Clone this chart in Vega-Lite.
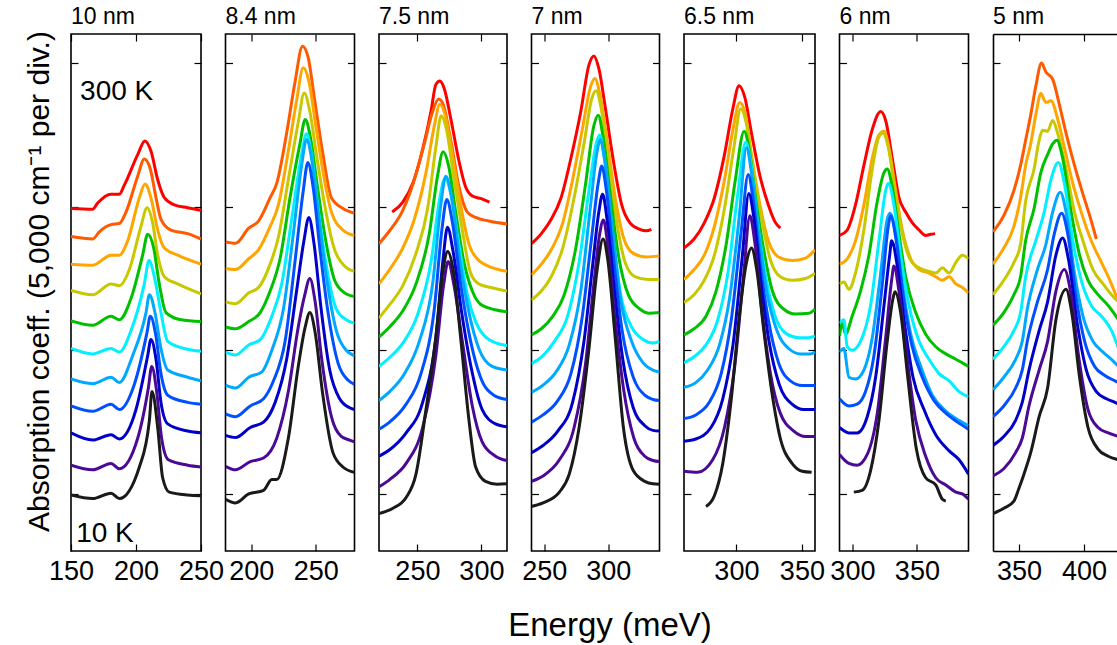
{
"$schema":"https://vega.github.io/schema/vega-lite/v6.json",
"background":"white",
"padding":{"left":23,"top":5,"right":0,"bottom":0},
"spacing":24.5,
"bounds":"flush",
"resolve":{"scale":{"x":"independent","y":"independent"},"axis":{"x":"independent","y":"independent"}},
"datasets":{
"ann":[{"x":157,"y":1120,"t":"300 K"},{"x":154,"y":-111,"t":"10 K"}],
"p1":[
{"c":11,"x":150,"y":795},{"c":11,"x":166.7,"y":793},{"c":11,"x":170.5,"y":810},{"c":11,"x":180.8,"y":835},{"c":11,"x":187.2,"y":835},{"c":11,"x":191,"y":860},{"c":11,"x":201.3,"y":945},{"c":11,"x":206.9,"y":983},{"c":11,"x":211.5,"y":955},{"c":11,"x":216.7,"y":875},{"c":11,"x":221.8,"y":825},{"c":11,"x":229.5,"y":805},{"c":11,"x":239.7,"y":797},{"c":11,"x":250,"y":790},
{"c":10,"x":150,"y":717},{"c":10,"x":166.7,"y":710},{"c":10,"x":171.8,"y":730},{"c":10,"x":180.8,"y":750},{"c":10,"x":187.2,"y":753},{"c":10,"x":192.3,"y":785},{"c":10,"x":201.3,"y":885},{"c":10,"x":206.4,"y":933},{"c":10,"x":211,"y":905},{"c":10,"x":215.4,"y":825},{"c":10,"x":219.2,"y":765},{"c":10,"x":226.9,"y":735},{"c":10,"x":239.7,"y":725},{"c":10,"x":250,"y":710},
{"c":9,"x":150,"y":640},{"c":9,"x":166.7,"y":637},{"c":9,"x":180.8,"y":665},{"c":9,"x":187.2,"y":665},{"c":9,"x":193.6,"y":705},{"c":9,"x":202.6,"y":825},{"c":9,"x":206.9,"y":863},{"c":9,"x":211.5,"y":825},{"c":9,"x":216.7,"y":735},{"c":9,"x":221.8,"y":685},{"c":9,"x":232.1,"y":665},{"c":9,"x":250,"y":640},
{"c":8,"x":150,"y":567},{"c":8,"x":166.7,"y":555},{"c":8,"x":180.8,"y":585},{"c":8,"x":187.2,"y":580},{"c":8,"x":194.9,"y":625},{"c":8,"x":203.8,"y":745},{"c":8,"x":208.5,"y":797},{"c":8,"x":212.8,"y":755},{"c":8,"x":216.7,"y":665},{"c":8,"x":221.8,"y":605},{"c":8,"x":232.1,"y":585},{"c":8,"x":250,"y":557},
{"c":7,"x":150,"y":482},{"c":7,"x":166.7,"y":470},{"c":7,"x":180.8,"y":495},{"c":7,"x":187.2,"y":485},{"c":7,"x":196.2,"y":545},{"c":7,"x":205.1,"y":665},{"c":7,"x":209,"y":723},{"c":7,"x":213.6,"y":685},{"c":7,"x":217.9,"y":585},{"c":7,"x":223.1,"y":505},{"c":7,"x":234.6,"y":485},{"c":7,"x":250,"y":480},
{"c":6,"x":150,"y":405},{"c":6,"x":166.7,"y":390},{"c":6,"x":180.8,"y":405},{"c":6,"x":187.2,"y":395},{"c":6,"x":196.2,"y":455},{"c":6,"x":206.4,"y":585},{"c":6,"x":210,"y":650},{"c":6,"x":214.1,"y":605},{"c":6,"x":219.2,"y":505},{"c":6,"x":224.4,"y":425},{"c":6,"x":237.2,"y":405},{"c":6,"x":250,"y":397},
{"c":5,"x":150,"y":320},{"c":5,"x":166.7,"y":307},{"c":5,"x":180.8,"y":325},{"c":5,"x":187.2,"y":310},{"c":5,"x":197.4,"y":385},{"c":5,"x":207.7,"y":505},{"c":5,"x":210.3,"y":555},{"c":5,"x":214.6,"y":505},{"c":5,"x":219.2,"y":405},{"c":5,"x":224.4,"y":345},{"c":5,"x":239.7,"y":325},{"c":5,"x":250,"y":315},
{"c":4,"x":150,"y":245},{"c":4,"x":166.7,"y":230},{"c":4,"x":180.8,"y":250},{"c":4,"x":187.2,"y":235},{"c":4,"x":198.7,"y":305},{"c":4,"x":208.5,"y":450},{"c":4,"x":211,"y":495},{"c":4,"x":215.1,"y":445},{"c":4,"x":219.2,"y":335},{"c":4,"x":224.4,"y":275},{"c":4,"x":239.7,"y":255},{"c":4,"x":250,"y":250},
{"c":3,"x":150,"y":170},{"c":3,"x":166.7,"y":150},{"c":3,"x":180.8,"y":165},{"c":3,"x":187.2,"y":153},{"c":3,"x":200,"y":235},{"c":3,"x":209,"y":385},{"c":3,"x":211.5,"y":430},{"c":3,"x":215.4,"y":375},{"c":3,"x":219.2,"y":255},{"c":3,"x":224.4,"y":195},{"c":3,"x":239.7,"y":175},{"c":3,"x":250,"y":170},
{"c":2,"x":150,"y":80},{"c":2,"x":166.7,"y":67},{"c":2,"x":180.8,"y":85},{"c":2,"x":187.2,"y":70},{"c":2,"x":201.3,"y":155},{"c":2,"x":209.5,"y":295},{"c":2,"x":212.1,"y":355},{"c":2,"x":215.9,"y":285},{"c":2,"x":219.7,"y":155},{"c":2,"x":224.9,"y":95},{"c":2,"x":239.7,"y":80},{"c":2,"x":250,"y":75},
{"c":1,"x":150,"y":-3},{"c":1,"x":166.7,"y":-13},{"c":1,"x":180.8,"y":2},{"c":1,"x":187.2,"y":-13},{"c":1,"x":202.6,"y":75},{"c":1,"x":210.3,"y":205},{"c":1,"x":212.3,"y":285},{"c":1,"x":216.7,"y":185},{"c":1,"x":220.5,"y":45},{"c":1,"x":225.6,"y":5},{"c":1,"x":239.7,"y":-3},{"c":1,"x":250,"y":-5}
],
"p2":[
{"c":10,"x":180,"y":702},{"c":10,"x":187.7,"y":698},{"c":10,"x":198,"y":740},{"c":10,"x":205.6,"y":760},{"c":10,"x":214.6,"y":825},{"c":10,"x":219.7,"y":865},{"c":10,"x":227.4,"y":1005},{"c":10,"x":233.8,"y":1145},{"c":10,"x":239.7,"y":1247},{"c":10,"x":244.1,"y":1215},{"c":10,"x":249.2,"y":1095},{"c":10,"x":255.6,"y":945},{"c":10,"x":262.1,"y":825},{"c":10,"x":271,"y":795},{"c":10,"x":280,"y":782},
{"c":9,"x":180,"y":628},{"c":9,"x":187.7,"y":625},{"c":9,"x":198,"y":655},{"c":9,"x":205.6,"y":680},{"c":9,"x":214.6,"y":745},{"c":9,"x":221,"y":805},{"c":9,"x":228.7,"y":955},{"c":9,"x":235.1,"y":1095},{"c":9,"x":240.3,"y":1187},{"c":9,"x":244.9,"y":1145},{"c":9,"x":250,"y":1025},{"c":9,"x":256.2,"y":885},{"c":9,"x":262.1,"y":785},{"c":9,"x":271,"y":735},{"c":9,"x":280,"y":720},
{"c":8,"x":180,"y":535},{"c":8,"x":187.7,"y":530},{"c":8,"x":198,"y":560},{"c":8,"x":205.6,"y":575},{"c":8,"x":214.6,"y":640},{"c":8,"x":221,"y":715},{"c":8,"x":228.7,"y":875},{"c":8,"x":236.4,"y":1035},{"c":8,"x":241,"y":1117},{"c":8,"x":245.4,"y":1065},{"c":8,"x":250.5,"y":945},{"c":8,"x":256.9,"y":805},{"c":8,"x":263.3,"y":695},{"c":8,"x":272.3,"y":635},{"c":8,"x":280,"y":620},
{"c":7,"x":180,"y":465},{"c":7,"x":187.7,"y":460},{"c":7,"x":198,"y":480},{"c":7,"x":206.9,"y":505},{"c":7,"x":214.6,"y":565},{"c":7,"x":222.3,"y":655},{"c":7,"x":230,"y":825},{"c":7,"x":237.7,"y":975},{"c":7,"x":241.8,"y":1043},{"c":7,"x":246.2,"y":985},{"c":7,"x":251.3,"y":855},{"c":7,"x":257.7,"y":705},{"c":7,"x":264.6,"y":595},{"c":7,"x":272.3,"y":560},{"c":7,"x":280,"y":550},
{"c":6,"x":180,"y":395},{"c":6,"x":187.7,"y":387},{"c":6,"x":198,"y":415},{"c":6,"x":206.9,"y":430},{"c":6,"x":215.9,"y":495},{"c":6,"x":223.6,"y":585},{"c":6,"x":231.3,"y":765},{"c":6,"x":239,"y":945},{"c":6,"x":242.8,"y":1003},{"c":6,"x":246.7,"y":945},{"c":6,"x":251.8,"y":795},{"c":6,"x":258.2,"y":635},{"c":6,"x":265.9,"y":515},{"c":6,"x":273.6,"y":485},{"c":6,"x":280,"y":475},
{"c":5,"x":180,"y":303},{"c":5,"x":187.7,"y":295},{"c":5,"x":198,"y":325},{"c":5,"x":208.2,"y":340},{"c":5,"x":215.9,"y":400},{"c":5,"x":224.9,"y":515},{"c":5,"x":232.6,"y":725},{"c":5,"x":239,"y":915},{"c":5,"x":242.8,"y":987},{"c":5,"x":246.7,"y":935},{"c":5,"x":251.8,"y":785},{"c":5,"x":258.2,"y":605},{"c":5,"x":265.9,"y":455},{"c":5,"x":273.6,"y":400},{"c":5,"x":280,"y":385},
{"c":4,"x":180,"y":223},{"c":4,"x":187.7,"y":215},{"c":4,"x":199.2,"y":245},{"c":4,"x":209.5,"y":265},{"c":4,"x":217.2,"y":315},{"c":4,"x":226.2,"y":425},{"c":4,"x":233.8,"y":645},{"c":4,"x":240.3,"y":845},{"c":4,"x":243.8,"y":923},{"c":4,"x":247.9,"y":855},{"c":4,"x":253.1,"y":685},{"c":4,"x":259.5,"y":505},{"c":4,"x":267.2,"y":365},{"c":4,"x":274.9,"y":317},{"c":4,"x":280,"y":305},
{"c":3,"x":180,"y":163},{"c":3,"x":187.7,"y":157},{"c":3,"x":199.2,"y":185},{"c":3,"x":209.5,"y":200},{"c":3,"x":218.5,"y":255},{"c":3,"x":227.4,"y":375},{"c":3,"x":235.1,"y":565},{"c":3,"x":240.8,"y":705},{"c":3,"x":244.6,"y":770},{"c":3,"x":248.7,"y":695},{"c":3,"x":253.8,"y":525},{"c":3,"x":260.8,"y":345},{"c":3,"x":268.5,"y":265},{"c":3,"x":276.2,"y":240},{"c":3,"x":280,"y":235},
{"c":2,"x":180,"y":77},{"c":2,"x":187.7,"y":67},{"c":2,"x":199.2,"y":90},{"c":2,"x":209.5,"y":100},{"c":2,"x":219.7,"y":155},{"c":2,"x":228.7,"y":285},{"c":2,"x":236.4,"y":465},{"c":2,"x":241.5,"y":555},{"c":2,"x":245.4,"y":600},{"c":2,"x":249.5,"y":535},{"c":2,"x":254.6,"y":375},{"c":2,"x":262.1,"y":215},{"c":2,"x":269.7,"y":160},{"c":2,"x":276.2,"y":150},{"c":2,"x":280,"y":145},
{"c":1,"x":180,"y":-15},{"c":1,"x":187.7,"y":-25},{"c":1,"x":198,"y":0},{"c":1,"x":209.5,"y":10},{"c":1,"x":215.9,"y":40},{"c":1,"x":219.7,"y":40},{"c":1,"x":228.7,"y":155},{"c":1,"x":236.4,"y":355},{"c":1,"x":241.8,"y":465},{"c":1,"x":245.4,"y":505},{"c":1,"x":249.7,"y":445},{"c":1,"x":255.1,"y":285},{"c":1,"x":263.3,"y":115},{"c":1,"x":271,"y":75},{"c":1,"x":280,"y":60}
],
"p3":[
{"c":11,"x":230.3,"y":785},{"c":11,"x":238.6,"y":813},{"c":11,"x":246.4,"y":865},{"c":11,"x":254.1,"y":960},{"c":11,"x":260.6,"y":1065},{"c":11,"x":264.4,"y":1140},{"c":11,"x":267.5,"y":1150},{"c":11,"x":270.9,"y":1130},{"c":11,"x":276.1,"y":1045},{"c":11,"x":282,"y":935},{"c":11,"x":287.7,"y":855},{"c":11,"x":292.9,"y":830},{"c":11,"x":299.3,"y":823},{"c":11,"x":306.3,"y":813},
{"c":10,"x":220,"y":697},{"c":10,"x":228.3,"y":733},{"c":10,"x":238.6,"y":790},{"c":10,"x":247.6,"y":875},{"c":10,"x":255.4,"y":975},{"c":10,"x":261.9,"y":1065},{"c":10,"x":266.5,"y":1100},{"c":10,"x":270.1,"y":1085},{"c":10,"x":276.1,"y":985},{"c":10,"x":282.5,"y":855},{"c":10,"x":289,"y":785},{"c":10,"x":295.5,"y":770},{"c":10,"x":305.8,"y":760},{"c":10,"x":320,"y":752},
{"c":9,"x":220,"y":585},{"c":9,"x":228.3,"y":625},{"c":9,"x":238.6,"y":685},{"c":9,"x":247.6,"y":765},{"c":9,"x":256.7,"y":895},{"c":9,"x":263.2,"y":1025},{"c":9,"x":267.5,"y":1085},{"c":9,"x":271.7,"y":1055},{"c":9,"x":277.4,"y":945},{"c":9,"x":283.8,"y":805},{"c":9,"x":290.3,"y":695},{"c":9,"x":296.7,"y":655},{"c":9,"x":308.4,"y":630},{"c":9,"x":320,"y":620},
{"c":8,"x":220,"y":490},{"c":8,"x":228.3,"y":527},{"c":8,"x":238.6,"y":580},{"c":8,"x":248.9,"y":670},{"c":8,"x":258,"y":795},{"c":8,"x":264.4,"y":965},{"c":8,"x":268.6,"y":1053},{"c":8,"x":272.7,"y":1015},{"c":8,"x":278.7,"y":875},{"c":8,"x":285.1,"y":735},{"c":8,"x":291.6,"y":615},{"c":8,"x":298,"y":585},{"c":8,"x":309.7,"y":573},{"c":8,"x":320,"y":565},
{"c":7,"x":220,"y":437},{"c":7,"x":228.3,"y":465},{"c":7,"x":238.6,"y":510},{"c":7,"x":248.9,"y":585},{"c":7,"x":259.3,"y":725},{"c":7,"x":265.7,"y":885},{"c":7,"x":270.1,"y":953},{"c":7,"x":274.3,"y":915},{"c":7,"x":279.9,"y":785},{"c":7,"x":286.4,"y":645},{"c":7,"x":292.9,"y":565},{"c":7,"x":300.6,"y":525},{"c":7,"x":320,"y":507},
{"c":6,"x":220,"y":355},{"c":6,"x":228.3,"y":380},{"c":6,"x":238.6,"y":420},{"c":6,"x":250.2,"y":500},{"c":6,"x":260.6,"y":645},{"c":6,"x":267.5,"y":825},{"c":6,"x":271.7,"y":880},{"c":6,"x":276.1,"y":835},{"c":6,"x":282,"y":705},{"c":6,"x":289,"y":555},{"c":6,"x":295.5,"y":480},{"c":6,"x":305.8,"y":430},{"c":6,"x":320,"y":413},
{"c":5,"x":220,"y":260},{"c":5,"x":228.3,"y":285},{"c":5,"x":239.9,"y":335},{"c":5,"x":251.5,"y":425},{"c":5,"x":261.9,"y":585},{"c":5,"x":268.3,"y":805},{"c":5,"x":272.2,"y":885},{"c":5,"x":276.8,"y":825},{"c":5,"x":283,"y":655},{"c":5,"x":290.3,"y":505},{"c":5,"x":298,"y":405},{"c":5,"x":308.4,"y":355},{"c":5,"x":320,"y":345},
{"c":4,"x":220,"y":180},{"c":4,"x":228.3,"y":200},{"c":4,"x":241.2,"y":250},{"c":4,"x":252.8,"y":335},{"c":4,"x":263.2,"y":515},{"c":4,"x":269.1,"y":735},{"c":4,"x":273,"y":820},{"c":4,"x":277.4,"y":755},{"c":4,"x":283.8,"y":585},{"c":4,"x":291.6,"y":425},{"c":4,"x":299.3,"y":325},{"c":4,"x":309.7,"y":275},{"c":4,"x":320,"y":263},
{"c":3,"x":220,"y":105},{"c":3,"x":228.3,"y":123},{"c":3,"x":241.2,"y":170},{"c":3,"x":254.1,"y":255},{"c":3,"x":264.4,"y":435},{"c":3,"x":270.1,"y":655},{"c":3,"x":273.5,"y":743},{"c":3,"x":277.9,"y":675},{"c":3,"x":284.6,"y":505},{"c":3,"x":292.4,"y":345},{"c":3,"x":300.6,"y":235},{"c":3,"x":311,"y":195},{"c":3,"x":320,"y":187},
{"c":2,"x":220,"y":20},{"c":2,"x":228.3,"y":40},{"c":2,"x":241.2,"y":85},{"c":2,"x":254.1,"y":185},{"c":2,"x":264.4,"y":385},{"c":2,"x":270.6,"y":585},{"c":2,"x":274,"y":647},{"c":2,"x":278.4,"y":585},{"c":2,"x":285.1,"y":425},{"c":2,"x":292.9,"y":245},{"c":2,"x":300.6,"y":145},{"c":2,"x":311,"y":105},{"c":2,"x":320,"y":93},
{"c":1,"x":220,"y":-55},{"c":1,"x":230.9,"y":-40},{"c":1,"x":241.2,"y":-10},{"c":1,"x":248.9,"y":55},{"c":1,"x":256.7,"y":235},{"c":1,"x":264.4,"y":435},{"c":1,"x":270.1,"y":625},{"c":1,"x":273.7,"y":675},{"c":1,"x":277.9,"y":625},{"c":1,"x":283.8,"y":435},{"c":1,"x":290.3,"y":205},{"c":1,"x":295.5,"y":75},{"c":1,"x":303.2,"y":35},{"c":1,"x":312.2,"y":27},{"c":1,"x":320,"y":28}
],
"p4":[
{"c":11,"x":240,"y":697},{"c":11,"x":247.7,"y":725},{"c":11,"x":255.4,"y":765},{"c":11,"x":263.1,"y":825},{"c":11,"x":270.8,"y":935},{"c":11,"x":278.5,"y":1065},{"c":11,"x":284.9,"y":1195},{"c":11,"x":288.7,"y":1220},{"c":11,"x":292.6,"y":1185},{"c":11,"x":297.7,"y":1075},{"c":11,"x":304.1,"y":925},{"c":11,"x":310.5,"y":805},{"c":11,"x":316.9,"y":755},{"c":11,"x":324.6,"y":737},{"c":11,"x":329.7,"y":733},{"c":11,"x":333.6,"y":737},
{"c":9,"x":240,"y":610},{"c":9,"x":247.7,"y":640},{"c":9,"x":255.4,"y":680},{"c":9,"x":264.4,"y":755},{"c":9,"x":272.1,"y":875},{"c":9,"x":279.7,"y":1015},{"c":9,"x":286.2,"y":1135},{"c":9,"x":289.5,"y":1157},{"c":9,"x":293.3,"y":1115},{"c":9,"x":299,"y":985},{"c":9,"x":305.4,"y":825},{"c":9,"x":311.8,"y":715},{"c":9,"x":319.5,"y":670},{"c":9,"x":329.7,"y":660},{"c":9,"x":340,"y":663},
{"c":8,"x":240,"y":540},{"c":8,"x":247.7,"y":565},{"c":8,"x":255.4,"y":605},{"c":8,"x":264.4,"y":685},{"c":8,"x":273.3,"y":825},{"c":8,"x":281,"y":975},{"c":8,"x":287.4,"y":1105},{"c":8,"x":290.5,"y":1123},{"c":8,"x":294.4,"y":1075},{"c":8,"x":299.7,"y":935},{"c":8,"x":306.2,"y":765},{"c":8,"x":313.1,"y":645},{"c":8,"x":320.8,"y":605},{"c":8,"x":331,"y":597},{"c":8,"x":340,"y":597},
{"c":7,"x":240,"y":443},{"c":7,"x":247.7,"y":460},{"c":7,"x":256.7,"y":495},{"c":7,"x":265.6,"y":555},{"c":7,"x":274.6,"y":685},{"c":7,"x":282.3,"y":865},{"c":7,"x":288.7,"y":1025},{"c":7,"x":292.1,"y":1055},{"c":7,"x":295.9,"y":995},{"c":7,"x":301.5,"y":835},{"c":7,"x":307.9,"y":665},{"c":7,"x":315.6,"y":555},{"c":7,"x":324.6,"y":515},{"c":7,"x":332.3,"y":503},{"c":7,"x":340,"y":505},
{"c":6,"x":240,"y":363},{"c":6,"x":249,"y":385},{"c":6,"x":257.9,"y":425},{"c":6,"x":268.2,"y":495},{"c":6,"x":277.2,"y":645},{"c":6,"x":284.9,"y":845},{"c":6,"x":290.8,"y":980},{"c":6,"x":293.3,"y":1000},{"c":6,"x":296.9,"y":935},{"c":6,"x":302.8,"y":745},{"c":6,"x":309.2,"y":565},{"c":6,"x":318.2,"y":465},{"c":6,"x":327.2,"y":430},{"c":6,"x":334.9,"y":420},{"c":6,"x":340,"y":425},
{"c":5,"x":240,"y":283},{"c":5,"x":249,"y":303},{"c":5,"x":259.2,"y":340},{"c":5,"x":269.5,"y":415},{"c":5,"x":278.5,"y":565},{"c":5,"x":286.2,"y":805},{"c":5,"x":291.3,"y":955},{"c":5,"x":293.8,"y":987},{"c":5,"x":297.4,"y":925},{"c":5,"x":303.6,"y":725},{"c":5,"x":310,"y":535},{"c":5,"x":318.2,"y":425},{"c":5,"x":327.2,"y":365},{"c":5,"x":334.9,"y":345},{"c":5,"x":340,"y":340},
{"c":4,"x":240,"y":200},{"c":4,"x":249,"y":220},{"c":4,"x":260.5,"y":260},{"c":4,"x":270.8,"y":335},{"c":4,"x":279.7,"y":495},{"c":4,"x":286.7,"y":705},{"c":4,"x":292.1,"y":865},{"c":4,"x":294.9,"y":913},{"c":4,"x":298.5,"y":845},{"c":4,"x":304.1,"y":655},{"c":4,"x":310.8,"y":455},{"c":4,"x":319.5,"y":325},{"c":4,"x":328.5,"y":275},{"c":4,"x":334.9,"y":263},{"c":4,"x":340,"y":260},
{"c":3,"x":240,"y":115},{"c":3,"x":249,"y":135},{"c":3,"x":260.5,"y":175},{"c":3,"x":272.1,"y":255},{"c":3,"x":281,"y":425},{"c":3,"x":287.7,"y":635},{"c":3,"x":292.6,"y":785},{"c":3,"x":295.6,"y":835},{"c":3,"x":299,"y":765},{"c":3,"x":304.6,"y":575},{"c":3,"x":311.3,"y":375},{"c":3,"x":319.5,"y":240},{"c":3,"x":328.5,"y":190},{"c":3,"x":334.9,"y":177},{"c":3,"x":340,"y":175},
{"c":2,"x":240,"y":35},{"c":2,"x":249,"y":50},{"c":2,"x":261.8,"y":95},{"c":2,"x":273.3,"y":185},{"c":2,"x":282.3,"y":365},{"c":2,"x":288.7,"y":585},{"c":2,"x":293.3,"y":725},{"c":2,"x":296.2,"y":763},{"c":2,"x":299.5,"y":695},{"c":2,"x":305.1,"y":495},{"c":2,"x":311.8,"y":295},{"c":2,"x":320,"y":155},{"c":2,"x":328.5,"y":105},{"c":2,"x":334.9,"y":93},{"c":2,"x":340,"y":90},
{"c":1,"x":240,"y":-35},{"c":1,"x":249,"y":-25},{"c":1,"x":261.8,"y":5},{"c":1,"x":269.5,"y":55},{"c":1,"x":277.2,"y":185},{"c":1,"x":284.9,"y":405},{"c":1,"x":291.3,"y":625},{"c":1,"x":295.9,"y":710},{"c":1,"x":299.5,"y":655},{"c":1,"x":305.4,"y":435},{"c":1,"x":311.8,"y":185},{"c":1,"x":319.5,"y":65},{"c":1,"x":328.5,"y":35},{"c":1,"x":334.9,"y":28},{"c":1,"x":340,"y":27}
],
"p5":[
{"c":11,"x":260,"y":685},{"c":11,"x":267.7,"y":710},{"c":11,"x":275.5,"y":755},{"c":11,"x":283.2,"y":825},{"c":11,"x":290.9,"y":945},{"c":11,"x":297.4,"y":1075},{"c":11,"x":302,"y":1137},{"c":11,"x":306.4,"y":1105},{"c":11,"x":311.5,"y":1005},{"c":11,"x":318,"y":885},{"c":11,"x":324.4,"y":805},{"c":11,"x":329.6,"y":757},{"c":11,"x":333.5,"y":740},
{"c":9,"x":260,"y":597},{"c":9,"x":267.7,"y":625},{"c":9,"x":275.5,"y":665},{"c":9,"x":283.2,"y":745},{"c":9,"x":290.9,"y":875},{"c":9,"x":297.4,"y":1015},{"c":9,"x":302.5,"y":1090},{"c":9,"x":306.4,"y":1065},{"c":9,"x":311.5,"y":945},{"c":9,"x":318,"y":805},{"c":9,"x":324.4,"y":705},{"c":9,"x":332.2,"y":660},{"c":9,"x":342.5,"y":650},{"c":9,"x":352.8,"y":657},{"c":9,"x":360,"y":680},
{"c":8,"x":260,"y":533},{"c":8,"x":267.7,"y":555},{"c":8,"x":275.5,"y":595},{"c":8,"x":283.2,"y":665},{"c":8,"x":290.9,"y":795},{"c":8,"x":298.1,"y":965},{"c":8,"x":303.3,"y":1073},{"c":8,"x":307.4,"y":1035},{"c":8,"x":312.8,"y":905},{"c":8,"x":319.3,"y":765},{"c":8,"x":325.7,"y":655},{"c":8,"x":333.5,"y":605},{"c":8,"x":342.5,"y":595},{"c":8,"x":352.8,"y":600},{"c":8,"x":360,"y":615},
{"c":7,"x":260,"y":443},{"c":7,"x":267.7,"y":460},{"c":7,"x":276.8,"y":495},{"c":7,"x":284.5,"y":565},{"c":7,"x":292.2,"y":695},{"c":7,"x":299.2,"y":875},{"c":7,"x":305.9,"y":1010},{"c":7,"x":309.5,"y":965},{"c":7,"x":314.6,"y":825},{"c":7,"x":320.6,"y":685},{"c":7,"x":327.5,"y":565},{"c":7,"x":336,"y":515},{"c":7,"x":345,"y":501},{"c":7,"x":355.4,"y":503},{"c":7,"x":360,"y":515},
{"c":6,"x":260,"y":365},{"c":6,"x":267.7,"y":382},{"c":6,"x":276.8,"y":415},{"c":6,"x":285.8,"y":485},{"c":6,"x":293.5,"y":615},{"c":6,"x":300.7,"y":825},{"c":6,"x":307.2,"y":980},{"c":6,"x":310.8,"y":925},{"c":6,"x":315.9,"y":765},{"c":6,"x":322.4,"y":605},{"c":6,"x":329.6,"y":495},{"c":6,"x":338.6,"y":445},{"c":6,"x":347.6,"y":435},{"c":6,"x":355.4,"y":435},{"c":6,"x":360,"y":440},
{"c":5,"x":260,"y":297},{"c":5,"x":269,"y":310},{"c":5,"x":278,"y":345},{"c":5,"x":287.1,"y":415},{"c":5,"x":294.8,"y":545},{"c":5,"x":302,"y":765},{"c":5,"x":307.7,"y":965},{"c":5,"x":311.5,"y":895},{"c":5,"x":316.7,"y":735},{"c":5,"x":323.1,"y":565},{"c":5,"x":330.9,"y":455},{"c":5,"x":339.9,"y":405},{"c":5,"x":348.9,"y":390},{"c":5,"x":356.6,"y":390},{"c":5,"x":360,"y":395},
{"c":4,"x":260,"y":210},{"c":4,"x":269,"y":220},{"c":4,"x":279.3,"y":255},{"c":4,"x":288.4,"y":335},{"c":4,"x":296.1,"y":485},{"c":4,"x":303.8,"y":735},{"c":4,"x":309,"y":890},{"c":4,"x":312.6,"y":825},{"c":4,"x":318,"y":645},{"c":4,"x":324.4,"y":485},{"c":4,"x":332.2,"y":365},{"c":4,"x":341.2,"y":315},{"c":4,"x":350.2,"y":302},{"c":4,"x":360,"y":302},
{"c":3,"x":260,"y":147},{"c":3,"x":269,"y":153},{"c":3,"x":280.6,"y":185},{"c":3,"x":289.6,"y":265},{"c":3,"x":297.4,"y":415},{"c":3,"x":304.6,"y":665},{"c":3,"x":309.5,"y":837},{"c":3,"x":313.1,"y":775},{"c":3,"x":318.5,"y":595},{"c":3,"x":324.9,"y":425},{"c":3,"x":332.7,"y":305},{"c":3,"x":342.5,"y":250},{"c":3,"x":351.5,"y":235},{"c":3,"x":360,"y":235},
{"c":2,"x":260,"y":63},{"c":2,"x":270.3,"y":60},{"c":2,"x":281.9,"y":95},{"c":2,"x":290.9,"y":185},{"c":2,"x":298.7,"y":355},{"c":2,"x":305.4,"y":605},{"c":2,"x":310.3,"y":775},{"c":2,"x":313.9,"y":705},{"c":2,"x":319.3,"y":515},{"c":2,"x":326,"y":335},{"c":2,"x":333.5,"y":225},{"c":2,"x":343.8,"y":175},{"c":2,"x":352.8,"y":160},{"c":2,"x":360,"y":160},
{"c":1,"x":276.8,"y":-35},{"c":1,"x":283.2,"y":-5},{"c":1,"x":289.6,"y":85},{"c":1,"x":296.1,"y":265},{"c":1,"x":302.5,"y":505},{"c":1,"x":307.7,"y":645},{"c":1,"x":311.5,"y":685},{"c":1,"x":315.5,"y":625},{"c":1,"x":320.6,"y":465},{"c":1,"x":327,"y":285},{"c":1,"x":333.5,"y":155},{"c":1,"x":342.5,"y":85},{"c":1,"x":350.2,"y":63},{"c":1,"x":357.4,"y":60}
],
"p6":[
{"c":11,"x":290,"y":720},{"c":11,"x":296,"y":735},{"c":11,"x":302.4,"y":805},{"c":11,"x":308.9,"y":915},{"c":11,"x":315.4,"y":1015},{"c":11,"x":321.9,"y":1065},{"c":11,"x":325.8,"y":1040},{"c":11,"x":330.9,"y":935},{"c":11,"x":336.1,"y":825},{"c":11,"x":341.3,"y":785},{"c":11,"x":346.5,"y":755},{"c":11,"x":351.7,"y":735},{"c":11,"x":356.8,"y":720},{"c":11,"x":360.7,"y":723},{"c":11,"x":364.1,"y":725},
{"c":9,"x":290,"y":640},{"c":9,"x":296,"y":655},{"c":9,"x":302.4,"y":705},{"c":9,"x":308.9,"y":805},{"c":9,"x":315.4,"y":935},{"c":9,"x":320.6,"y":1000},{"c":9,"x":324.5,"y":1010},{"c":9,"x":328.3,"y":965},{"c":9,"x":333.5,"y":845},{"c":9,"x":338.7,"y":735},{"c":9,"x":345.2,"y":655},{"c":9,"x":351.7,"y":625},{"c":9,"x":359.4,"y":615},{"c":9,"x":364.6,"y":605},{"c":9,"x":369.8,"y":595},{"c":9,"x":375,"y":605},{"c":9,"x":380.2,"y":585},{"c":9,"x":385.3,"y":575},{"c":9,"x":390,"y":560},
{"c":8,"x":290,"y":585},{"c":8,"x":293.4,"y":590},{"c":8,"x":297.3,"y":570},{"c":8,"x":302.4,"y":615},{"c":8,"x":308.9,"y":735},{"c":8,"x":315.4,"y":905},{"c":8,"x":320.6,"y":995},{"c":8,"x":323.7,"y":1005},{"c":8,"x":327.8,"y":965},{"c":8,"x":333,"y":845},{"c":8,"x":338.7,"y":725},{"c":8,"x":345.2,"y":650},{"c":8,"x":351.7,"y":630},{"c":8,"x":359.4,"y":620},{"c":8,"x":364.6,"y":615},{"c":8,"x":369.8,"y":630},{"c":8,"x":375,"y":615},{"c":8,"x":380.2,"y":645},{"c":8,"x":385.3,"y":665},{"c":8,"x":390,"y":655},
{"c":7,"x":290,"y":440},{"c":7,"x":292.1,"y":475},{"c":7,"x":294.7,"y":445},{"c":7,"x":299.8,"y":495},{"c":7,"x":306.3,"y":565},{"c":7,"x":312.8,"y":665},{"c":7,"x":319.3,"y":815},{"c":7,"x":324.5,"y":895},{"c":7,"x":327,"y":905},{"c":7,"x":330.9,"y":855},{"c":7,"x":336.1,"y":725},{"c":7,"x":341.3,"y":605},{"c":7,"x":349.1,"y":505},{"c":7,"x":356.8,"y":445},{"c":7,"x":364.6,"y":410},{"c":7,"x":372.4,"y":390},{"c":7,"x":380.2,"y":375},{"c":7,"x":385.3,"y":365},{"c":7,"x":390,"y":355},
{"c":6,"x":290,"y":475},{"c":6,"x":293.4,"y":485},{"c":6,"x":296,"y":410},{"c":6,"x":299.8,"y":400},{"c":6,"x":306.3,"y":425},{"c":6,"x":314.1,"y":525},{"c":6,"x":320.6,"y":705},{"c":6,"x":325.8,"y":845},{"c":6,"x":327.8,"y":865},{"c":6,"x":332.2,"y":805},{"c":6,"x":337.4,"y":665},{"c":6,"x":343.9,"y":525},{"c":6,"x":351.7,"y":425},{"c":6,"x":359.4,"y":375},{"c":6,"x":367.2,"y":335},{"c":6,"x":375,"y":315},{"c":6,"x":382.7,"y":285},{"c":6,"x":390,"y":270},
{"c":5,"x":290,"y":395},{"c":5,"x":293.4,"y":405},{"c":5,"x":297.3,"y":325},{"c":5,"x":302.4,"y":320},{"c":5,"x":308.9,"y":345},{"c":5,"x":315.4,"y":435},{"c":5,"x":321.9,"y":615},{"c":5,"x":327,"y":765},{"c":5,"x":329.1,"y":782},{"c":5,"x":333.5,"y":725},{"c":5,"x":338.7,"y":585},{"c":5,"x":345.2,"y":445},{"c":5,"x":353,"y":355},{"c":5,"x":362,"y":275},{"c":5,"x":371.1,"y":235},{"c":5,"x":380.2,"y":210},{"c":5,"x":390,"y":190},
{"c":4,"x":290,"y":265},{"c":4,"x":297.3,"y":245},{"c":4,"x":303.7,"y":250},{"c":4,"x":310.2,"y":285},{"c":4,"x":316.7,"y":385},{"c":4,"x":323.2,"y":585},{"c":4,"x":327.8,"y":745},{"c":4,"x":329.6,"y":775},{"c":4,"x":334,"y":705},{"c":4,"x":339.2,"y":555},{"c":4,"x":346,"y":415},{"c":4,"x":354.2,"y":325},{"c":4,"x":363.3,"y":260},{"c":4,"x":372.4,"y":225},{"c":4,"x":381.5,"y":200},{"c":4,"x":390,"y":180},
{"c":3,"x":290,"y":185},{"c":3,"x":297.3,"y":170},{"c":3,"x":303.7,"y":170},{"c":3,"x":311.5,"y":215},{"c":3,"x":318,"y":325},{"c":3,"x":324.5,"y":525},{"c":3,"x":328.9,"y":665},{"c":3,"x":330.4,"y":705},{"c":3,"x":334.8,"y":635},{"c":3,"x":340,"y":485},{"c":3,"x":347,"y":325},{"c":3,"x":355.5,"y":235},{"c":3,"x":364.6,"y":165},{"c":3,"x":375,"y":120},{"c":3,"x":382.7,"y":95},{"c":3,"x":390,"y":55},
{"c":2,"x":290,"y":110},{"c":2,"x":297.3,"y":85},{"c":2,"x":303.7,"y":80},{"c":2,"x":311.5,"y":110},{"c":2,"x":319.3,"y":225},{"c":2,"x":325.8,"y":435},{"c":2,"x":330.4,"y":595},{"c":2,"x":332.2,"y":635},{"c":2,"x":336.1,"y":565},{"c":2,"x":341.8,"y":395},{"c":2,"x":349.1,"y":205},{"c":2,"x":356.8,"y":105},{"c":2,"x":364.6,"y":45},{"c":2,"x":372.4,"y":25},{"c":2,"x":380.2,"y":5},{"c":2,"x":385.3,"y":0},{"c":2,"x":390,"y":-15},
{"c":1,"x":301.1,"y":5},{"c":1,"x":307.6,"y":10},{"c":1,"x":314.1,"y":65},{"c":1,"x":320.6,"y":205},{"c":1,"x":327,"y":425},{"c":1,"x":331.5,"y":545},{"c":1,"x":333,"y":563},{"c":1,"x":337.4,"y":505},{"c":1,"x":342.6,"y":335},{"c":1,"x":349.6,"y":125},{"c":1,"x":356.8,"y":45},{"c":1,"x":364.6,"y":25},{"c":1,"x":369.8,"y":-15},{"c":1,"x":372.4,"y":-20}
],
"p7":[
{"c":10,"x":330,"y":730},{"c":10,"x":338.3,"y":775},{"c":10,"x":346.1,"y":845},{"c":10,"x":351.2,"y":915},{"c":10,"x":355.1,"y":985},{"c":10,"x":359,"y":1055},{"c":10,"x":362.9,"y":1135},{"c":10,"x":367.3,"y":1200},{"c":10,"x":370.7,"y":1175},{"c":10,"x":375.9,"y":1155},{"c":10,"x":381,"y":1085},{"c":10,"x":386.2,"y":1005},{"c":10,"x":392.7,"y":915},{"c":10,"x":399.2,"y":835},{"c":10,"x":404.4,"y":775},{"c":10,"x":409.5,"y":710},
{"c":9,"x":330,"y":640},{"c":9,"x":338.3,"y":685},{"c":9,"x":346.1,"y":745},{"c":9,"x":351.2,"y":825},{"c":9,"x":355.1,"y":915},{"c":9,"x":359,"y":975},{"c":9,"x":362.9,"y":1055},{"c":9,"x":366.8,"y":1115},{"c":9,"x":370.7,"y":1090},{"c":9,"x":374.6,"y":1095},{"c":9,"x":379.7,"y":1045},{"c":9,"x":384.9,"y":965},{"c":9,"x":391.4,"y":865},{"c":9,"x":397.9,"y":785},{"c":9,"x":405.6,"y":705},{"c":9,"x":413.4,"y":645},{"c":9,"x":419.9,"y":595},{"c":9,"x":426.6,"y":535},
{"c":8,"x":330,"y":555},{"c":8,"x":338.3,"y":595},{"c":8,"x":346.1,"y":645},{"c":8,"x":351.2,"y":695},{"c":8,"x":355.1,"y":815},{"c":8,"x":361.6,"y":905},{"c":8,"x":365.5,"y":985},{"c":8,"x":368.1,"y":1013},{"c":8,"x":372,"y":1010},{"c":8,"x":375.9,"y":1040},{"c":8,"x":379.7,"y":1005},{"c":8,"x":386.2,"y":905},{"c":8,"x":392.7,"y":785},{"c":8,"x":399.2,"y":705},{"c":8,"x":406.9,"y":625},{"c":8,"x":414.7,"y":585},{"c":8,"x":421.2,"y":555},{"c":8,"x":426.6,"y":535},
{"c":7,"x":330,"y":470},{"c":7,"x":338.3,"y":505},{"c":7,"x":346.1,"y":555},{"c":7,"x":351.2,"y":605},{"c":7,"x":355.1,"y":705},{"c":7,"x":361.6,"y":795},{"c":7,"x":366.8,"y":895},{"c":7,"x":372,"y":945},{"c":7,"x":375.9,"y":975},{"c":7,"x":379.2,"y":985},{"c":7,"x":383.6,"y":935},{"c":7,"x":390.1,"y":785},{"c":7,"x":396.6,"y":665},{"c":7,"x":403.1,"y":595},{"c":7,"x":410.8,"y":555},{"c":7,"x":418.6,"y":525},{"c":7,"x":426.6,"y":485},
{"c":6,"x":330,"y":375},{"c":6,"x":338.3,"y":410},{"c":6,"x":346.1,"y":455},{"c":6,"x":351.2,"y":505},{"c":6,"x":355.1,"y":605},{"c":6,"x":362.9,"y":705},{"c":6,"x":369.4,"y":785},{"c":6,"x":374.6,"y":875},{"c":6,"x":380.3,"y":923},{"c":6,"x":384.9,"y":865},{"c":6,"x":391.4,"y":705},{"c":6,"x":397.9,"y":595},{"c":6,"x":405.6,"y":525},{"c":6,"x":413.4,"y":495},{"c":6,"x":421.2,"y":455},{"c":6,"x":426.6,"y":405},
{"c":5,"x":330,"y":290},{"c":5,"x":338.3,"y":325},{"c":5,"x":347.4,"y":375},{"c":5,"x":352.5,"y":425},{"c":5,"x":356.4,"y":515},{"c":5,"x":364.2,"y":625},{"c":5,"x":370.7,"y":695},{"c":5,"x":375.9,"y":785},{"c":5,"x":381.8,"y":840},{"c":5,"x":386.2,"y":785},{"c":5,"x":392.7,"y":615},{"c":5,"x":399.2,"y":495},{"c":5,"x":406.9,"y":425},{"c":5,"x":414.7,"y":395},{"c":5,"x":422.5,"y":370},{"c":5,"x":426.6,"y":355},
{"c":4,"x":330,"y":215},{"c":4,"x":338.3,"y":245},{"c":4,"x":347.4,"y":295},{"c":4,"x":352.5,"y":345},{"c":4,"x":356.4,"y":425},{"c":4,"x":364.2,"y":535},{"c":4,"x":372,"y":625},{"c":4,"x":377.2,"y":725},{"c":4,"x":382.8,"y":782},{"c":4,"x":387.5,"y":725},{"c":4,"x":394,"y":545},{"c":4,"x":400.5,"y":425},{"c":4,"x":408.2,"y":355},{"c":4,"x":416,"y":330},{"c":4,"x":423.8,"y":315},{"c":4,"x":426.6,"y":310},
{"c":3,"x":330,"y":135},{"c":3,"x":338.3,"y":160},{"c":3,"x":347.4,"y":205},{"c":3,"x":352.5,"y":255},{"c":3,"x":357.7,"y":345},{"c":3,"x":365.5,"y":455},{"c":3,"x":372,"y":535},{"c":3,"x":378.4,"y":665},{"c":3,"x":383.6,"y":713},{"c":3,"x":388,"y":655},{"c":3,"x":394.8,"y":475},{"c":3,"x":401.8,"y":345},{"c":3,"x":409.5,"y":285},{"c":3,"x":417.3,"y":265},{"c":3,"x":423.8,"y":255},{"c":3,"x":426.6,"y":250},
{"c":2,"x":330,"y":50},{"c":2,"x":338.3,"y":70},{"c":2,"x":347.4,"y":115},{"c":2,"x":352.5,"y":155},{"c":2,"x":357.7,"y":245},{"c":2,"x":365.5,"y":345},{"c":2,"x":372,"y":425},{"c":2,"x":378.4,"y":565},{"c":2,"x":384.9,"y":625},{"c":2,"x":389.6,"y":565},{"c":2,"x":395.8,"y":385},{"c":2,"x":403.1,"y":235},{"c":2,"x":410.8,"y":185},{"c":2,"x":418.6,"y":170},{"c":2,"x":426.6,"y":160},
{"c":1,"x":330,"y":-55},{"c":1,"x":338.3,"y":-40},{"c":1,"x":346.1,"y":-20},{"c":1,"x":349.9,"y":15},{"c":1,"x":353.8,"y":55},{"c":1,"x":359,"y":115},{"c":1,"x":365.5,"y":215},{"c":1,"x":372,"y":295},{"c":1,"x":378.4,"y":485},{"c":1,"x":386.2,"y":570},{"c":1,"x":390.6,"y":505},{"c":1,"x":396.6,"y":325},{"c":1,"x":403.1,"y":185},{"c":1,"x":410.8,"y":125},{"c":1,"x":418.6,"y":105},{"c":1,"x":426.6,"y":95}
]
},
"hconcat":[
{"width":130,"height":517,"title":{"text":"10 nm","dy":7},
 "layer":[
  {"data":{"name":"p1"},"mark":{"type":"line","strokeWidth":3,"interpolate":"monotone","clip":true},
   "encoding":{"x":{"field":"x","type":"quantitative","scale":{"domain":[150,250],"nice":false,"zero":false},"axis":{"orient":"bottom","values":[150,200,250],"title":null}},
   "y":{"field":"y","type":"quantitative","scale":{"domain":[-159,1281],"nice":false,"zero":false},"axis":{"orient":"left","values":[0,400,800,1200],"labels":false,"title":"Absorption coeff. (5,000 cm⁻¹  per div.)","titleFontSize":30,"titleX":-32,"titleY":247,"titleAngle":-90,"titleAlign":"center","titleBaseline":"middle"}},
   "color":{"field":"c","type":"ordinal","scale":{"domain":[1,2,3,4,5,6,7,8,9,10,11],"range":["#1a1a1a","#4b0a96","#0000c8","#0050ff","#00a8ff","#00f0ff","#00c000","#c8c800","#ffa500","#ff5a00","#ff0000"]},"legend":null}}},
  {"data":{"name":"p1"},"mark":{"type":"point","opacity":0,"size":0,"clip":true},
   "encoding":{"x":{"field":"x","type":"quantitative","axis":{"orient":"top","values":[150,200,250],"labels":false,"title":null}},
   "y":{"field":"y","type":"quantitative","axis":{"orient":"right","values":[0,400,800,1200],"labels":false,"title":null}}}},
  {"data":{"name":"ann"},"mark":{"type":"text","align":"left","baseline":"middle","fontSize":28,"font":"Liberation Sans","color":"#000"},
   "encoding":{"x":{"field":"x","type":"quantitative","axis":null},"y":{"field":"y","type":"quantitative","axis":null},"text":{"field":"t","type":"nominal"}}}
 ],
 "resolve":{"axis":{"x":"independent","y":"independent"}}},
{"width":129,"height":517,"title":"8.4 nm",
 "layer":[
  {"data":{"name":"p2"},"mark":{"type":"line","strokeWidth":3,"interpolate":"monotone","clip":true},
   "encoding":{"x":{"field":"x","type":"quantitative","scale":{"domain":[180,280],"nice":false,"zero":false},"axis":{"orient":"bottom","values":[200,250],"title":null}},
   "y":{"field":"y","type":"quantitative","scale":{"domain":[-159,1281],"nice":false,"zero":false},"axis":{"orient":"left","values":[0,400,800,1200],"labels":false,"title":null}},
   "color":{"field":"c","type":"ordinal","scale":{"domain":[1,2,3,4,5,6,7,8,9,10,11],"range":["#1a1a1a","#4b0a96","#0000c8","#0050ff","#00a8ff","#00f0ff","#00c000","#c8c800","#ffa500","#ff5a00","#ff0000"]},"legend":null}}},
  {"data":{"name":"p2"},"mark":{"type":"point","opacity":0,"size":0,"clip":true},
   "encoding":{"x":{"field":"x","type":"quantitative","axis":{"orient":"top","values":[200,250],"labels":false,"title":null}},
   "y":{"field":"y","type":"quantitative","axis":{"orient":"right","values":[0,400,800,1200],"labels":false,"title":null}}}}
 ],
 "resolve":{"axis":{"x":"independent","y":"independent"}}},
{"width":128,"height":517,"title":"7.5 nm",
 "layer":[
  {"data":{"name":"p3"},"mark":{"type":"line","strokeWidth":3,"interpolate":"monotone","clip":true},
   "encoding":{"x":{"field":"x","type":"quantitative","scale":{"domain":[220,320],"nice":false,"zero":false},"axis":{"orient":"bottom","values":[250,300],"title":null}},
   "y":{"field":"y","type":"quantitative","scale":{"domain":[-159,1281],"nice":false,"zero":false},"axis":{"orient":"left","values":[0,400,800,1200],"labels":false,"title":null}},
   "color":{"field":"c","type":"ordinal","scale":{"domain":[1,2,3,4,5,6,7,8,9,10,11],"range":["#1a1a1a","#4b0a96","#0000c8","#0050ff","#00a8ff","#00f0ff","#00c000","#c8c800","#ffa500","#ff5a00","#ff0000"]},"legend":null}}},
  {"data":{"name":"p3"},"mark":{"type":"point","opacity":0,"size":0,"clip":true},
   "encoding":{"x":{"field":"x","type":"quantitative","axis":{"orient":"top","values":[250,300],"labels":false,"title":null}},
   "y":{"field":"y","type":"quantitative","axis":{"orient":"right","values":[0,400,800,1200],"labels":false,"title":null}}}}
 ],
 "resolve":{"axis":{"x":"independent","y":"independent"}}},
{"width":128,"height":517,"title":"7 nm",
 "layer":[
  {"data":{"name":"p4"},"mark":{"type":"line","strokeWidth":3,"interpolate":"monotone","clip":true},
   "encoding":{"x":{"field":"x","type":"quantitative","scale":{"domain":[240,340],"nice":false,"zero":false},"axis":{"orient":"bottom","values":[250,300],"title":"Energy (meV)","titleFontSize":33,"titleX":78,"titleY":84,"titleAlign":"center","titleBaseline":"alphabetic"}},
   "y":{"field":"y","type":"quantitative","scale":{"domain":[-159,1281],"nice":false,"zero":false},"axis":{"orient":"left","values":[0,400,800,1200],"labels":false,"title":null}},
   "color":{"field":"c","type":"ordinal","scale":{"domain":[1,2,3,4,5,6,7,8,9,10,11],"range":["#1a1a1a","#4b0a96","#0000c8","#0050ff","#00a8ff","#00f0ff","#00c000","#c8c800","#ffa500","#ff5a00","#ff0000"]},"legend":null}}},
  {"data":{"name":"p4"},"mark":{"type":"point","opacity":0,"size":0,"clip":true},
   "encoding":{"x":{"field":"x","type":"quantitative","axis":{"orient":"top","values":[250,300],"labels":false,"title":null}},
   "y":{"field":"y","type":"quantitative","axis":{"orient":"right","values":[0,400,800,1200],"labels":false,"title":null}}}}
 ],
 "resolve":{"axis":{"x":"independent","y":"independent"}}},
{"width":131,"height":517,"title":"6.5 nm",
 "layer":[
  {"data":{"name":"p5"},"mark":{"type":"line","strokeWidth":3,"interpolate":"monotone","clip":true},
   "encoding":{"x":{"field":"x","type":"quantitative","scale":{"domain":[260,360],"nice":false,"zero":false},"axis":{"orient":"bottom","values":[300,350],"title":null}},
   "y":{"field":"y","type":"quantitative","scale":{"domain":[-159,1281],"nice":false,"zero":false},"axis":{"orient":"left","values":[0,400,800,1200],"labels":false,"title":null}},
   "color":{"field":"c","type":"ordinal","scale":{"domain":[1,2,3,4,5,6,7,8,9,10,11],"range":["#1a1a1a","#4b0a96","#0000c8","#0050ff","#00a8ff","#00f0ff","#00c000","#c8c800","#ffa500","#ff5a00","#ff0000"]},"legend":null}}},
  {"data":{"name":"p5"},"mark":{"type":"point","opacity":0,"size":0,"clip":true},
   "encoding":{"x":{"field":"x","type":"quantitative","axis":{"orient":"top","values":[300,350],"labels":false,"title":null}},
   "y":{"field":"y","type":"quantitative","axis":{"orient":"right","values":[0,400,800,1200],"labels":false,"title":null}}}}
 ],
 "resolve":{"axis":{"x":"independent","y":"independent"}}},
{"width":129,"height":517,"title":"6 nm",
 "layer":[
  {"data":{"name":"p6"},"mark":{"type":"line","strokeWidth":3,"interpolate":"monotone","clip":true},
   "encoding":{"x":{"field":"x","type":"quantitative","scale":{"domain":[290,390],"nice":false,"zero":false},"axis":{"orient":"bottom","values":[300,350],"title":null}},
   "y":{"field":"y","type":"quantitative","scale":{"domain":[-159,1281],"nice":false,"zero":false},"axis":{"orient":"left","values":[0,400,800,1200],"labels":false,"title":null}},
   "color":{"field":"c","type":"ordinal","scale":{"domain":[1,2,3,4,5,6,7,8,9,10,11],"range":["#1a1a1a","#4b0a96","#0000c8","#0050ff","#00a8ff","#00f0ff","#00c000","#c8c800","#ffa500","#ff5a00","#ff0000"]},"legend":null}}},
  {"data":{"name":"p6"},"mark":{"type":"point","opacity":0,"size":0,"clip":true},
   "encoding":{"x":{"field":"x","type":"quantitative","axis":{"orient":"top","values":[300,350],"labels":false,"title":null}},
   "y":{"field":"y","type":"quantitative","axis":{"orient":"right","values":[0,400,800,1200],"labels":false,"title":null}}}}
 ],
 "resolve":{"axis":{"x":"independent","y":"independent"}}},
{"width":124,"height":517,"title":"5 nm","view":{"stroke":null},
 "layer":[
  {"data":{"name":"p7"},"mark":{"type":"line","strokeWidth":3,"interpolate":"monotone","clip":true},
   "encoding":{"x":{"field":"x","type":"quantitative","scale":{"domain":[330,425.4],"nice":false,"zero":false},"axis":{"orient":"bottom","values":[350,400],"title":null,"domain":true,"domainColor":"#000","domainWidth":1.6}},
   "y":{"field":"y","type":"quantitative","scale":{"domain":[-159,1281],"nice":false,"zero":false},"axis":{"orient":"left","values":[0,400,800,1200],"labels":false,"title":null,"domain":true,"domainColor":"#000","domainWidth":1.6}},
   "color":{"field":"c","type":"ordinal","scale":{"domain":[1,2,3,4,5,6,7,8,9,10,11],"range":["#1a1a1a","#4b0a96","#0000c8","#0050ff","#00a8ff","#00f0ff","#00c000","#c8c800","#ffa500","#ff5a00","#ff0000"]},"legend":null}}},
  {"data":{"name":"p7"},"mark":{"type":"point","opacity":0,"size":0,"clip":true},
   "encoding":{"x":{"field":"x","type":"quantitative","axis":{"orient":"top","values":[350,400],"labels":false,"title":null,"domain":true,"domainColor":"#000","domainWidth":1.6}},
   "y":{"field":"y","type":"quantitative","axis":null}}}
 ],
 "resolve":{"axis":{"x":"independent","y":"independent"}}}
],
"config":{
 "font":"Liberation Sans",
 "view":{"stroke":"#000","strokeWidth":1.6},
 "axis":{"domain":false,"grid":false,"tickSize":-7,"tickColor":"#000","tickWidth":1.2,"labelFont":"Liberation Sans","labelFontSize":27,"labelColor":"#000","labelFlush":false,"labelOverlap":false,"labelPadding":14,"titleFont":"Liberation Sans","titleFontWeight":"normal","titleColor":"#000"},
 "title":{"font":"Liberation Sans","fontSize":23,"fontWeight":"normal","anchor":"start","frame":"group","offset":4,"color":"#000"}
}
}
